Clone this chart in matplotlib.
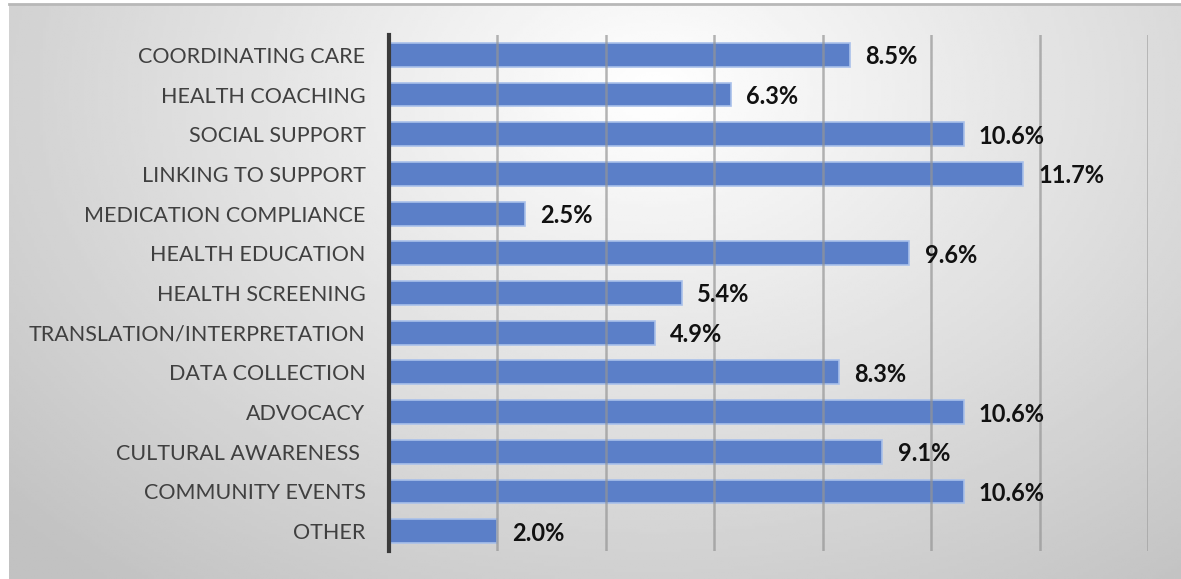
import numpy as np
import matplotlib.pyplot as plt

plt.rcParams['font.family'] = ['Lato', 'DejaVu Sans']

categories = [
    "COORDINATING CARE",
    "HEALTH COACHING",
    "SOCIAL SUPPORT",
    "LINKING TO SUPPORT",
    "MEDICATION COMPLIANCE",
    "HEALTH EDUCATION",
    "HEALTH SCREENING",
    "TRANSLATION/INTERPRETATION",
    "DATA COLLECTION",
    "ADVOCACY",
    "CULTURAL AWARENESS ",
    "COMMUNITY EVENTS",
    "OTHER",
]
values = [8.5, 6.3, 10.6, 11.7, 2.5, 9.6, 5.4, 4.9, 8.3, 10.6, 9.1, 10.6, 2.0]
x_ticks = [0, 2, 4, 6, 8, 10, 12, 14]

W, H = 1181, 579
fig = plt.figure(figsize=(W / 100, H / 100), dpi=100)

# gray radial gradient panel behind the chart
bg = fig.add_axes([9 / W, 0, 1 - 9 / W, (H - 4) / H])
gx, gy = np.meshgrid(np.linspace(0, 1, 400), np.linspace(0, 1, 200))
r = np.sqrt(((gx - 0.55) / 0.75) ** 2 + ((gy - 0.15) / 1.1) ** 2)
shade = np.clip(1.0 - 0.24 * r, 0.76, 1.0)
bg.imshow(shade, cmap='gray', vmin=0, vmax=1, aspect='auto',
          extent=[0, 1, 0, 1], origin='upper')
bg.set_xlim(0, 1)
bg.set_ylim(0, 1)
bg.axis('off')
fig.add_artist(plt.Line2D([9 / W, 1], [(H - 4) / H] * 2, color='#b8b8b8', lw=2))

ax = fig.add_axes([389 / W, 1 - 551 / H, (1148 - 389) / W, (551 - 35) / H])
ax.set_facecolor('none')
y = np.arange(len(categories))
ax.barh(y, values, height=0.6, color='#5b7fc8', edgecolor='#a9c0ea',
        linewidth=1.2, zorder=2)

for yi, v in zip(y, values):
    ax.text(v + 0.28, yi + 0.05, f"{v:.1f}%", va='center', ha='left',
            fontsize=17, fontweight='bold', color='#111111', zorder=4)

for t in x_ticks[1:]:
    ax.axvline(t, color='#959595', lw=1.8, alpha=0.7, zorder=3)

ax.set_xlim(0, 14)
ax.set_ylim(len(categories) - 0.5, -0.5)
ax.set_xticks([])
ax.set_yticks(y)
ax.set_yticklabels(categories, fontsize=15.5, color='#404040')
ax.tick_params(axis='y', length=0, pad=17)
for side in ['top', 'right', 'bottom']:
    ax.spines[side].set_visible(False)
ax.spines['left'].set_color('#3a3a3a')
ax.spines['left'].set_linewidth(3)
ax.spines['left'].set_zorder(5)

fig.savefig('out.png', dpi=100)
